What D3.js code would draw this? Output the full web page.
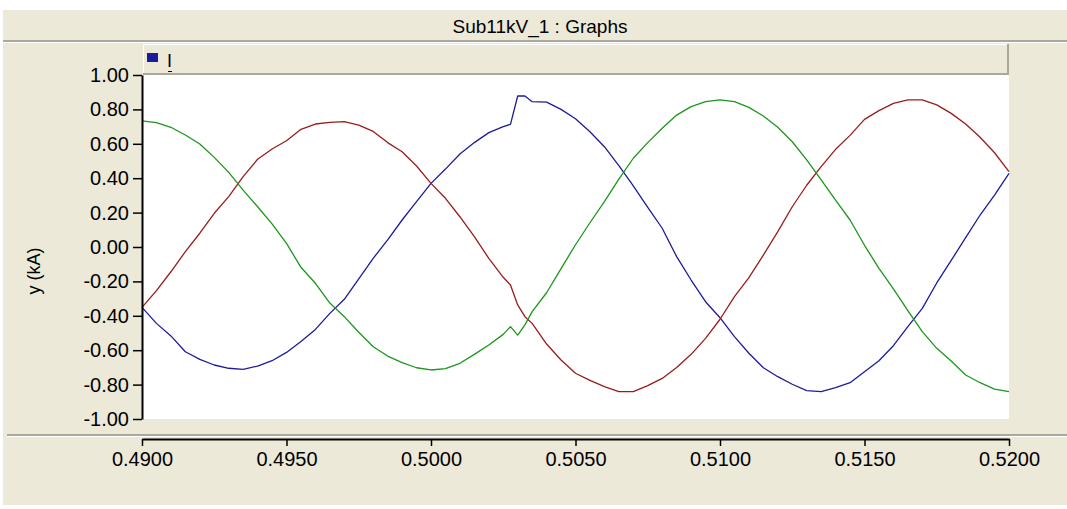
<!DOCTYPE html>
<html>
<head>
<meta charset="utf-8">
<script src="https://cdn.jsdelivr.net/npm/d3@7"></script>
<style>
  html, body { margin: 0; padding: 0; background: #ffffff; }
  svg { display: block; }
  text { font-family: "Liberation Sans", Arial, sans-serif; }
</style>
</head>
<body>
<div id="chart"></div>
<script>
// ---------------- data ----------------
const chartTitle = "Sub11kV_1 : Graphs";
const yAxisLabel = "y (kA)";
const legendLabel = "I";

const time = [
  0.4900, 0.4905, 0.4910, 0.4915, 0.4920, 0.4925, 0.4930, 0.4935, 0.4940, 0.4945,
  0.4950, 0.4955, 0.4960, 0.4965, 0.4970, 0.4975, 0.4980, 0.4985, 0.4990, 0.4995,
  0.5000, 0.5005, 0.5010, 0.5015, 0.5020, 0.5025, 0.50275, 0.5030, 0.50325, 0.5035,
  0.5040, 0.5045, 0.5050, 0.5055, 0.5060, 0.5065, 0.5070, 0.5075, 0.5080, 0.5085,
  0.5090, 0.5095, 0.5100, 0.5105, 0.5110, 0.5115, 0.5120, 0.5125, 0.5130, 0.5135,
  0.5140, 0.5145, 0.5150, 0.5155, 0.5160, 0.5165, 0.5170, 0.5175, 0.5180, 0.5185,
  0.5190, 0.5195, 0.5200
];

const phaseBlue = [
  -0.351, -0.444, -0.517, -0.609, -0.653, -0.686, -0.705, -0.711, -0.692, -0.661,
  -0.613, -0.550, -0.479, -0.386, -0.304, -0.186, -0.066, 0.041, 0.157, 0.264,
  0.370, 0.453, 0.541, 0.607, 0.665, 0.700, 0.713, 0.878, 0.878, 0.845,
  0.842, 0.800, 0.746, 0.670, 0.583, 0.473, 0.355, 0.231, 0.109, -0.056,
  -0.192, -0.318, -0.411, -0.521, -0.618, -0.702, -0.754, -0.798, -0.835, -0.841,
  -0.818, -0.789, -0.725, -0.661, -0.574, -0.463, -0.357, -0.209, -0.078, 0.054,
  0.186, 0.302, 0.428
];

const phaseRed = [
  -0.351, -0.254, -0.144, -0.027, 0.080, 0.196, 0.293, 0.409, 0.510, 0.570,
  0.618, 0.684, 0.715, 0.725, 0.729, 0.709, 0.672, 0.607, 0.554, 0.471,
  0.370, 0.283, 0.176, 0.060, -0.066, -0.176, -0.221, -0.337, -0.405, -0.444,
  -0.564, -0.657, -0.734, -0.775, -0.812, -0.841, -0.841, -0.806, -0.764, -0.700,
  -0.624, -0.531, -0.420, -0.289, -0.178, -0.047, 0.089, 0.234, 0.359, 0.467,
  0.568, 0.649, 0.742, 0.793, 0.835, 0.855, 0.855, 0.826, 0.777, 0.715,
  0.638, 0.548, 0.438
];

const phaseGreen = [
  0.733, 0.723, 0.696, 0.651, 0.599, 0.521, 0.434, 0.331, 0.234, 0.134,
  0.021, -0.118, -0.211, -0.326, -0.405, -0.496, -0.580, -0.634, -0.672, -0.702,
  -0.715, -0.707, -0.676, -0.624, -0.570, -0.508, -0.463, -0.512, -0.453, -0.376,
  -0.266, -0.126, 0.013, 0.141, 0.264, 0.395, 0.516, 0.607, 0.690, 0.767,
  0.816, 0.845, 0.855, 0.845, 0.812, 0.762, 0.696, 0.612, 0.506, 0.390,
  0.273, 0.157, 0.010, -0.124, -0.244, -0.370, -0.492, -0.589, -0.663, -0.744,
  -0.789, -0.826, -0.841
];

const xTicks = [0.4900, 0.4950, 0.5000, 0.5050, 0.5100, 0.5150, 0.5200];
const yTicks = [-1.00, -0.80, -0.60, -0.40, -0.20, 0.00, 0.20, 0.40, 0.60, 0.80, 1.00];

const seriesColors = ["#1c1c9a", "#9a1c1c", "#1c961c"];

// ---------------- layout ----------------
const W = 1067, H = 509;
const bg = "#ECE9D8", edge = "#ACA899";
const plot = { left: 142, right: 1009, top: 75, bottom: 419 };

const svg = d3.select("#chart").append("svg")
  .attr("width", W).attr("height", H);

// window background
svg.append("rect").attr("x", 0).attr("y", 0).attr("width", W).attr("height", H).attr("fill", "#ffffff");
svg.append("rect").attr("x", 3).attr("y", 10).attr("width", W - 3).attr("height", H - 14).attr("fill", bg);

// title band
svg.append("text")
  .attr("x", 540).attr("y", 33)
  .attr("text-anchor", "middle")
  .attr("font-size", 19)
  .attr("fill", "#000")
  .text(chartTitle);
svg.append("line").attr("x1", 3).attr("x2", W).attr("y1", 41).attr("y2", 41)
  .attr("stroke", edge).attr("stroke-width", 2);
svg.append("line").attr("x1", 3).attr("x2", W).attr("y1", 42.5).attr("y2", 42.5)
  .attr("stroke", "#ffffff").attr("stroke-width", 1);

// legend box
const lg = svg.append("g");
lg.append("rect").attr("x", 143).attr("y", 44).attr("width", 865).attr("height", 31).attr("fill", bg);
lg.append("path").attr("d", "M143.5,75 V44.5 H1007.5").attr("fill", "none").attr("stroke", "#ffffff");
lg.append("path").attr("d", "M143,74 H1008 V44").attr("fill", "none").attr("stroke", edge).attr("stroke-width", 2);
lg.append("rect").attr("x", 147).attr("y", 53).attr("width", 11).attr("height", 9).attr("fill", seriesColors[0]);
lg.append("text").attr("x", 167).attr("y", 67).attr("font-size", 18).attr("fill", "#000").text(legendLabel);
lg.append("line").attr("x1", 168).attr("x2", 172).attr("y1", 71.5).attr("y2", 71.5).attr("stroke", "#000");

// plot area
svg.append("rect")
  .attr("x", plot.left + 1).attr("y", plot.top)
  .attr("width", plot.right - plot.left - 1).attr("height", plot.bottom - plot.top)
  .attr("fill", "#ffffff");

// scales
const x = d3.scaleLinear().domain([0.49, 0.52]).range([plot.left, plot.right]);
const y = d3.scaleLinear().domain([-1, 1]).range([plot.bottom, plot.top]);

// lines
const series = [phaseBlue, phaseRed, phaseGreen];
const lineGen = d3.line().x(d => x(d[0])).y(d => y(d[1]));
series.forEach((vals, i) => {
  svg.append("path")
    .datum(time.map((t, j) => [t, vals[j]]))
    .attr("fill", "none")
    .attr("stroke", seriesColors[i])
    .attr("stroke-width", 1.3)
    .attr("stroke-linejoin", "round")
    .attr("d", lineGen);
});

// y axis
const yAxis = svg.append("g")
  .attr("transform", `translate(${plot.left},0)`)
  .call(d3.axisLeft(y).tickValues(yTicks).tickSize(9).tickSizeOuter(0).tickPadding(4)
    .tickFormat(d => (Math.abs(d) < 1e-9 ? 0 : d).toFixed(2)));
yAxis.selectAll("text").attr("font-size", 20).attr("font-family", '"Liberation Sans", Arial, sans-serif').attr("fill", "#000");
yAxis.selectAll("line").attr("stroke", "#000").attr("stroke-width", 1.5);
yAxis.select(".domain").attr("stroke", "#000").attr("stroke-width", 2);

// y label
svg.append("text")
  .attr("transform", "translate(40,271) rotate(-90)")
  .attr("text-anchor", "middle")
  .attr("font-size", 18)
  .attr("fill", "#000")
  .text(yAxisLabel);

// separator above x axis
svg.append("line").attr("x1", 7).attr("x2", W).attr("y1", 435).attr("y2", 435)
  .attr("stroke", edge).attr("stroke-width", 2);
svg.append("line").attr("x1", 7).attr("x2", W).attr("y1", 436.5).attr("y2", 436.5)
  .attr("stroke", "#ffffff").attr("stroke-width", 1);

// x axis
const xAxis = svg.append("g")
  .attr("transform", "translate(0,439)")
  .call(d3.axisBottom(x).tickValues(xTicks).tickSize(7).tickSizeOuter(0).tickPadding(6)
    .tickFormat(d => d.toFixed(4)));
xAxis.selectAll("text").attr("font-size", 20).attr("font-family", '"Liberation Sans", Arial, sans-serif').attr("fill", "#000");
xAxis.selectAll("line").attr("stroke", "#000").attr("stroke-width", 1.5);
xAxis.select(".domain").attr("stroke", "#000").attr("stroke-width", 2);
</script>
</body>
</html>
